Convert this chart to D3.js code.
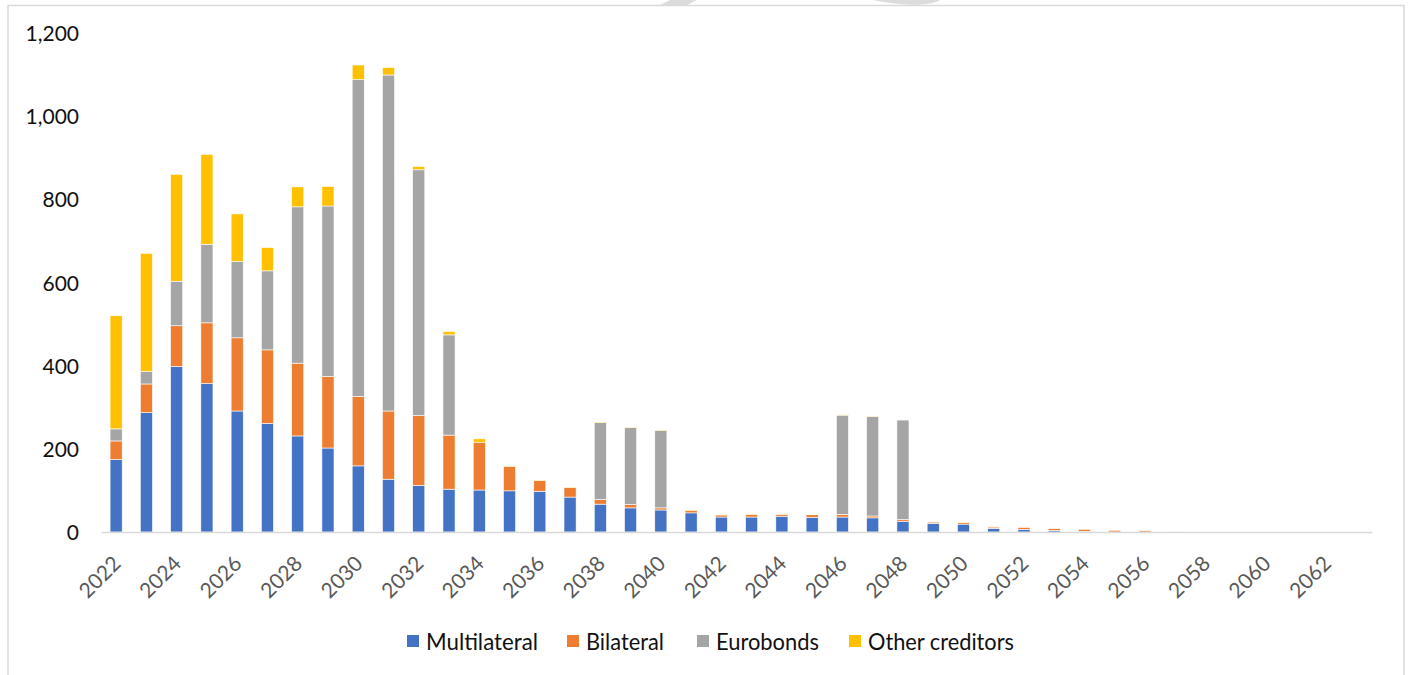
<!DOCTYPE html>
<html>
<head>
<meta charset="utf-8">
<script src="https://cdn.jsdelivr.net/npm/d3@7"></script>
<style>
  html, body { margin: 0; padding: 0; background: #fff; }
  svg { display: block; }
  text { font-family: Lato, "Open Sans", sans-serif; }
</style>
</head>
<body>
<svg id="chart" width="1408" height="675"></svg>
<script>
const years = d3.range(2022, 2064).map(String);
const multilateral = [174,287,398,357,291,261,231,202,159,127,112,103,101,99,98,84,67,58,53,46,36,36,38,35,36,34,26,21,19,9,6.5,4,1.5,0,0,0,0,0,0,0,0,0];
const bilateral    = [45,69,98,146,176,177,175,172,167,164,168,130,115,59,26,23,11,8,5,5.5,5,6.5,4.5,6.5,6.5,4.5,4,3,3.5,3,4.5,4,5,4,3,1.5,0,0,0,0,0,0];
const eurobonds    = [29,30,107,189,184,190,376,410,762,808,591,241,0,0,0,0,185,185,186,0,0,0,0,0,238.5,239.5,239.5,0,0,0,0,0,0,0,0,0,0,0,0,0,0,0];
const other        = [272,284,257,216,114,56,48,47,35,18,8,8,8,1,1,1,1.5,1,1.5,1.5,1,1,1,1,1.5,1,1,1.5,1,1.5,0,0,0,0,0,0,0,0,0,0,0,0];
const seriesNames = ["Multilateral","Bilateral","Eurobonds","Other creditors"];
const seriesColors = ["#4472C4","#ED7D31","#A5A5A5","#FFC000"];
const yTicks = [0,200,400,600,800,1000,1200];
const xTickYears = d3.range(2022, 2064, 2).map(String);

const svg = d3.select("#chart");

// chart border
svg.append("rect").attr("x", 8).attr("y", 5.5).attr("width", 1396).attr("height", 700)
  .attr("fill", "none").attr("stroke", "#d9d9d9").attr("stroke-width", 1.5);

// faint watermark fragments at top
svg.append("path").attr("d", "M660,5 L670,0 L697,0 L687,5 Z").attr("fill", "#dcdcdc");
svg.append("path").attr("d", "M873,0 L940,0 Q935,4 915,5 Q890,4 873,0 Z").attr("fill", "#dcdcdc");

const table = years.map((y, i) => ({
  year: y,
  "Multilateral": multilateral[i],
  "Bilateral": bilateral[i],
  "Eurobonds": eurobonds[i],
  "Other creditors": other[i]
}));

const x = d3.scaleBand().domain(years).range([101, 1372]).paddingInner(0.6).paddingOuter(0.3);
const y = d3.scaleLinear().domain([0, 1200]).range([532, 33]);
const color = d3.scaleOrdinal().domain(seriesNames).range(seriesColors);

const stack = d3.stack().keys(seriesNames)(table);

svg.append("g").selectAll("g").data(stack).join("g")
  .attr("fill", d => color(d.key))
  .selectAll("rect").data(d => d).join("rect")
  .attr("x", d => x(d.data.year))
  .attr("width", x.bandwidth())
  .attr("y", d => y(d[1]))
  .attr("height", d => Math.max(0, y(d[0]) - y(d[1])))
  .attr("stroke", "#fff").attr("stroke-width", 0.6);

// y axis labels
const yAxis = svg.append("g").attr("transform", "translate(79,0)")
  .call(d3.axisLeft(y).tickValues(yTicks).tickFormat(d3.format(",")).tickSize(0).tickPadding(0));
yAxis.select(".domain").remove();
yAxis.selectAll("text").attr("font-size", 21).attr("fill", "#111")
  .attr("font-family", "Lato, sans-serif").attr("dy", "0.36em");

// x axis
const xAxis = svg.append("g").attr("transform", "translate(0,532)")
  .call(d3.axisBottom(x).tickValues(xTickYears).tickSize(0).tickSizeOuter(0));
xAxis.select(".domain").attr("stroke", "#d9d9d9").attr("stroke-width", 1.5);
xAxis.selectAll("text")
  .attr("font-size", 21).attr("fill", "#595959")
  .attr("font-family", "Lato, sans-serif")
  .attr("text-anchor", "end")
  .attr("y", 0).attr("dy", 0)
  .attr("transform", "translate(6,33) rotate(-45)");

// legend
const legendItems = [
  {name: "Multilateral", x: 407, w: 112},
  {name: "Bilateral", x: 567, w: 78},
  {name: "Eurobonds", x: 697, w: 103},
  {name: "Other creditors", x: 849, w: 146}
];
const lg = svg.append("g");
legendItems.forEach(it => {
  lg.append("rect").attr("x", it.x).attr("y", 635).attr("width", 12).attr("height", 12)
    .attr("fill", color(it.name));
  lg.append("text").attr("x", it.x + 19).attr("y", 649.5).attr("font-size", 23)
    .attr("textLength", it.w).attr("lengthAdjust", "spacingAndGlyphs")
    .attr("fill", "#111").text(it.name);
});
</script>
</body>
</html>
